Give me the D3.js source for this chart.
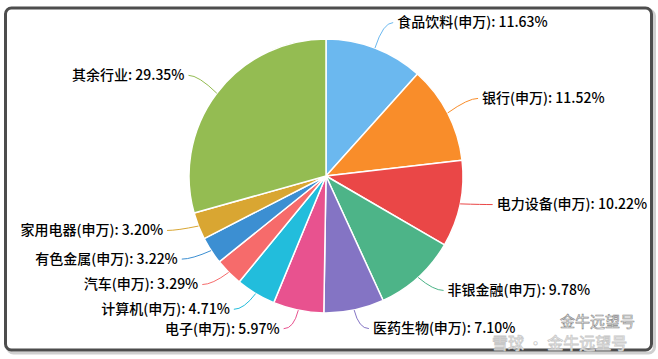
<!DOCTYPE html>
<html><head><meta charset="utf-8">
<script src="https://cdn.jsdelivr.net/npm/d3@7/dist/d3.min.js"></script>
<style>
html,body{margin:0;padding:0;background:#fff;}
svg{display:block;}
</style></head>
<body>
<svg id="chart" width="658" height="359"></svg>
<script>
const categories = ["食品饮料(申万)","银行(申万)","电力设备(申万)","非银金融(申万)","医药生物(申万)","电子(申万)","计算机(申万)","汽车(申万)","有色金属(申万)","家用电器(申万)","其余行业"];
const values = [11.63,11.52,10.22,9.78,7.10,5.97,4.71,3.29,3.22,3.20,29.35];
const colors = ["#6bb8ef","#f98d2a","#ea4747","#4db488","#8474c4","#e8528f","#22bddc","#f66b6b","#3c8fd2","#d9a632","#94bc52"];

const W = 658, H = 359;
const cx = 326, cy = 176, R = 137;
const svg = d3.select("#chart");

// frame
svg.append("rect").attr("x",7.5).attr("y",10).attr("width",647).attr("height",343)
  .attr("rx",6).attr("fill","none").attr("stroke","#cfcfcf").attr("stroke-width",3);
svg.append("rect").attr("x",5.5).attr("y",8).attr("width",646).attr("height",342)
  .attr("rx",6).attr("fill","#fff").attr("stroke","#4d4d4d").attr("stroke-width",3);

const data = categories.map((c,i)=>({name:c, value:values[i], color:colors[i]}));
const pie = d3.pie().value(d=>d.value).sort(null);
const arcs = pie(data);
const arc = d3.arc().innerRadius(0).outerRadius(R);

const g = svg.append("g").attr("transform",`translate(${cx},${cy})`);
g.selectAll("path.slice").data(arcs).enter().append("path")
  .attr("class","slice").attr("d",arc).attr("fill",d=>d.data.color)
  .attr("stroke","#fff").attr("stroke-width",1.5).attr("stroke-linejoin","round");

// labels
const len1 = 23, len2 = 10, gap = 4, ringDy = -4;
const lab = svg.append("g");
arcs.forEach(a=>{
  const ang = (a.startAngle + a.endAngle)/2;
  const sx = Math.sin(ang), sy = -Math.cos(ang);
  const p1 = [cx + R*sx, cy + R*sy];
  const p2 = [cx + (R+len1)*sx, cy + ringDy + (R+len1)*sy];
  const right = sx >= 0;
  const p3 = [p2[0] + (right?len2:-len2), p2[1]];
  lab.append("path")
    .attr("d",`M${p1[0]},${p1[1]}Q${p2[0]},${p2[1]} ${p3[0]},${p3[1]}`)
    .attr("fill","none").attr("stroke",a.data.color).attr("stroke-width",1);
  lab.append("text")
    .attr("x", p3[0] + (right?gap:-gap)).attr("y", p3[1])
    .attr("dy","0.35em")
    .attr("text-anchor", right?"start":"end")
    .attr("font-family","'Noto Sans CJK SC','Noto Sans',sans-serif")
    .attr("font-size",14).attr("font-weight",500).attr("fill","#000")
    .text(`${a.data.name}: ${a.data.value.toFixed(2)}%`);
});

// watermark
svg.append("text").attr("x",560).attr("y",327)
  .attr("font-family","'Noto Sans CJK SC',sans-serif").attr("font-size",15)
  .attr("fill","none").attr("stroke","#888").attr("stroke-width",0.6)
  .text("金牛远望号");
svg.append("text").attr("x",492).attr("y",349)
  .attr("font-family","'Noto Sans CJK SC',sans-serif").attr("font-size",16)
  .attr("fill","#fff").attr("stroke","#c8c8c8").attr("stroke-width",0.8)
  .text("雪球 · 金牛远望号");
</script>
</body></html>
